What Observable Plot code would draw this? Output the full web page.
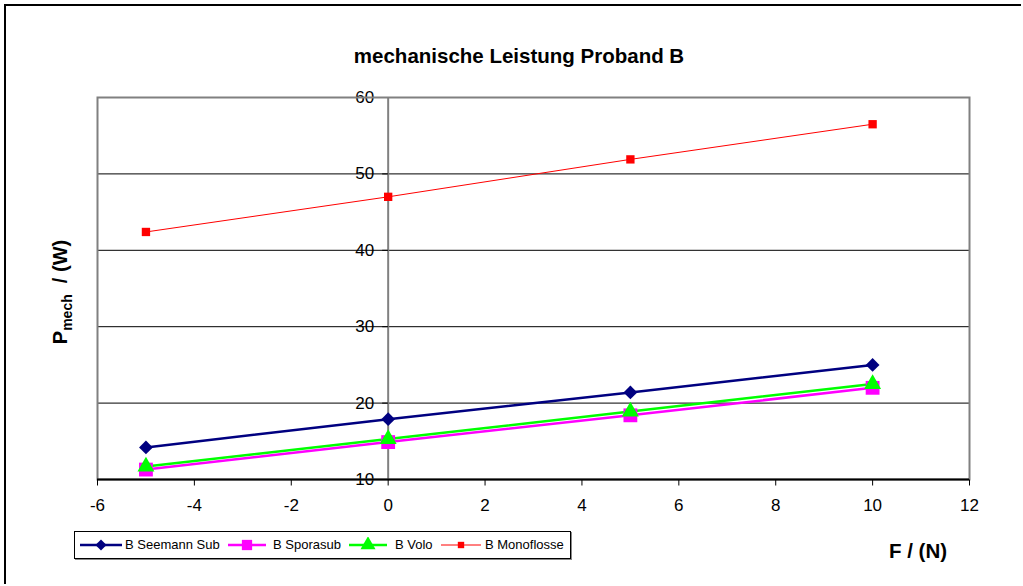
<!DOCTYPE html>
<html>
<head>
<meta charset="utf-8">
<script src="https://cdn.jsdelivr.net/npm/d3@7"></script>
<script src="https://cdn.jsdelivr.net/npm/@observablehq/plot@0.6"></script>
<style>
  html, body { margin: 0; padding: 0; background: #fff; overflow: hidden; }
  body { width: 1023px; height: 586px; position: relative; font-family: "Liberation Sans", Arial, sans-serif; }
  #frame { position: absolute; left: 4px; top: 4px; width: 1015px; height: 578px; border-left: 2px solid #000; border-top: 2px solid #000; }
  #chart { position: absolute; left: 0; top: 0; }
  #title { position: absolute; left: 0; width: 1038px; top: 44px; text-align: center; font-weight: bold; font-size: 20.5px; }
  #ylabel { position: absolute; left: 62px; top: 292px; transform: translate(-50%, -50%) rotate(-90deg); white-space: nowrap; font-weight: bold; font-size: 20px; }
  #ylabel sub { font-size: 14px; }
  #xlabel { position: absolute; left: 889px; top: 539px; font-weight: bold; font-size: 20.5px; }
  #legend { position: absolute; left: 74px; top: 531px; width: 495px; height: 26px; border: 1px solid #000; box-shadow: 1px 1px 0 #888; font-size: 13px; }
  #legend .sample { position: absolute; top: 5px; }
  #legend .lbl { position: absolute; top: 5px; white-space: nowrap; }
  svg text { font-family: "Liberation Sans", Arial, sans-serif; }
</style>
</head>
<body>
<div id="frame"></div>
<div id="chart"></div>
<div id="title">mechanische Leistung Proband B</div>
<div id="ylabel">P<sub>mech</sub>&nbsp;&nbsp;/ (W)</div>
<div id="xlabel">F / (N)</div>
<div id="legend"></div>
<script>
const forces = [-5, 0, 5, 10];
const seriesNames = ["B Seemann Sub", "B Sporasub", "B Volo", "B Monoflosse"];
const seemannSub = [14.2, 17.9, 21.4, 25.0];
const sporasub = [11.3, 14.9, 18.4, 22.0];
const volo = [11.7, 15.3, 18.9, 22.5];
const monoflosse = [42.4, 47.0, 51.9, 56.5];
const xTicks = [-6, -4, -2, 0, 2, 4, 6, 8, 10, 12];
const yTicks = [10, 20, 30, 40, 50, 60];
const gridTicks = [20, 30, 40, 50];

const styles = [
  {color: "#000080", symbol: "diamond2", r: 6.2, sw: 2.5, values: seemannSub},
  {color: "#FF00FF", symbol: "square", r: 7.8, sw: 2.5, values: sporasub},
  {color: "#00FF00", symbol: "triangle", r: 6.3, sw: 2.5, values: volo},
  {color: "#FF0000", symbol: "square", r: 4.7, sw: 1, values: monoflosse}
];

const rows = [];
styles.forEach((s, i) => forces.forEach((f, j) => rows.push({series: seriesNames[i], idx: i, F: f, P: s.values[j]})));

const leftTick = {draw(ctx, size) { ctx.moveTo(-6, 0); ctx.lineTo(0, 0); }};
const downTick = {draw(ctx, size) { ctx.moveTo(0, 0); ctx.lineTo(0, 6); }};

const marks = [
  Plot.ruleY(gridTicks, {stroke: "#000", strokeWidth: 1}),
  Plot.ruleX([0], {stroke: "#808080", strokeWidth: 2}),
  Plot.dot(yTicks, {x: 0, y: d => d, symbol: leftTick, stroke: "#000", strokeWidth: 1, r: 4}),
  Plot.text(yTicks, {x: 0, y: d => d, text: d => String(d), textAnchor: "end", dx: -14, fontSize: 17, fill: "#000"}),
  Plot.frame({stroke: "#808080", strokeWidth: 2}),
  Plot.ruleY([10], {stroke: "#000", strokeWidth: 2}),
  Plot.dot(xTicks, {x: d => d, frameAnchor: "bottom", symbol: downTick, stroke: "#000", strokeWidth: 1, r: 4}),
  Plot.text(xTicks, {x: d => d, frameAnchor: "bottom", text: d => String(d), dy: 31, fontSize: 17, fill: "#000"})
];
styles.forEach((s, i) => {
  const data = rows.filter(d => d.idx === i);
  marks.push(Plot.line(data, {x: "F", y: "P", stroke: s.color, strokeWidth: s.sw}));
});
styles.forEach((s, i) => {
  const data = rows.filter(d => d.idx === i);
  marks.push(Plot.dot(data, {x: "F", y: "P", symbol: s.symbol, r: s.r, fill: s.color, stroke: "none"}));
});

const chart = Plot.plot({
  width: 1023,
  height: 586,
  marginLeft: 97,
  marginRight: 54,
  marginTop: 97,
  marginBottom: 107,
  style: {fontFamily: "'Liberation Sans', Arial, sans-serif", background: "transparent", color: "#000"},
  x: {domain: [-6, 12], axis: null},
  y: {domain: [10, 60], axis: null},
  marks
});
document.getElementById("chart").appendChild(chart);

// Legend
const legend = document.getElementById("legend");
const layout = [[5, 42, 50], [153, 38, 198], [274, 38, 320], [366, 40, 410]];
const legendR = [5.0, 5.8, 5.6, 3.6];
styles.forEach((s, i) => {
  const [x0, w, lx] = layout[i];
  const svg = d3.create("svg").attr("class", "sample").attr("width", w).attr("height", 16).style("left", x0 + "px");
  svg.append("line").attr("x1", 0).attr("x2", w).attr("y1", 8).attr("y2", 8).attr("stroke", s.color).attr("stroke-width", s.sw);
  const symType = {diamond2: d3.symbolDiamond2, square: d3.symbolSquare, triangle: d3.symbolTriangle}[s.symbol];
  svg.append("path").attr("transform", `translate(${w / 2},8)`).attr("d", d3.symbol(symType, Math.PI * legendR[i] * legendR[i])()).attr("fill", s.color);
  legend.appendChild(svg.node());
  const label = document.createElement("span");
  label.className = "lbl";
  label.textContent = seriesNames[i];
  label.style.left = lx + "px";
  legend.appendChild(label);
});
</script>
</body>
</html>
